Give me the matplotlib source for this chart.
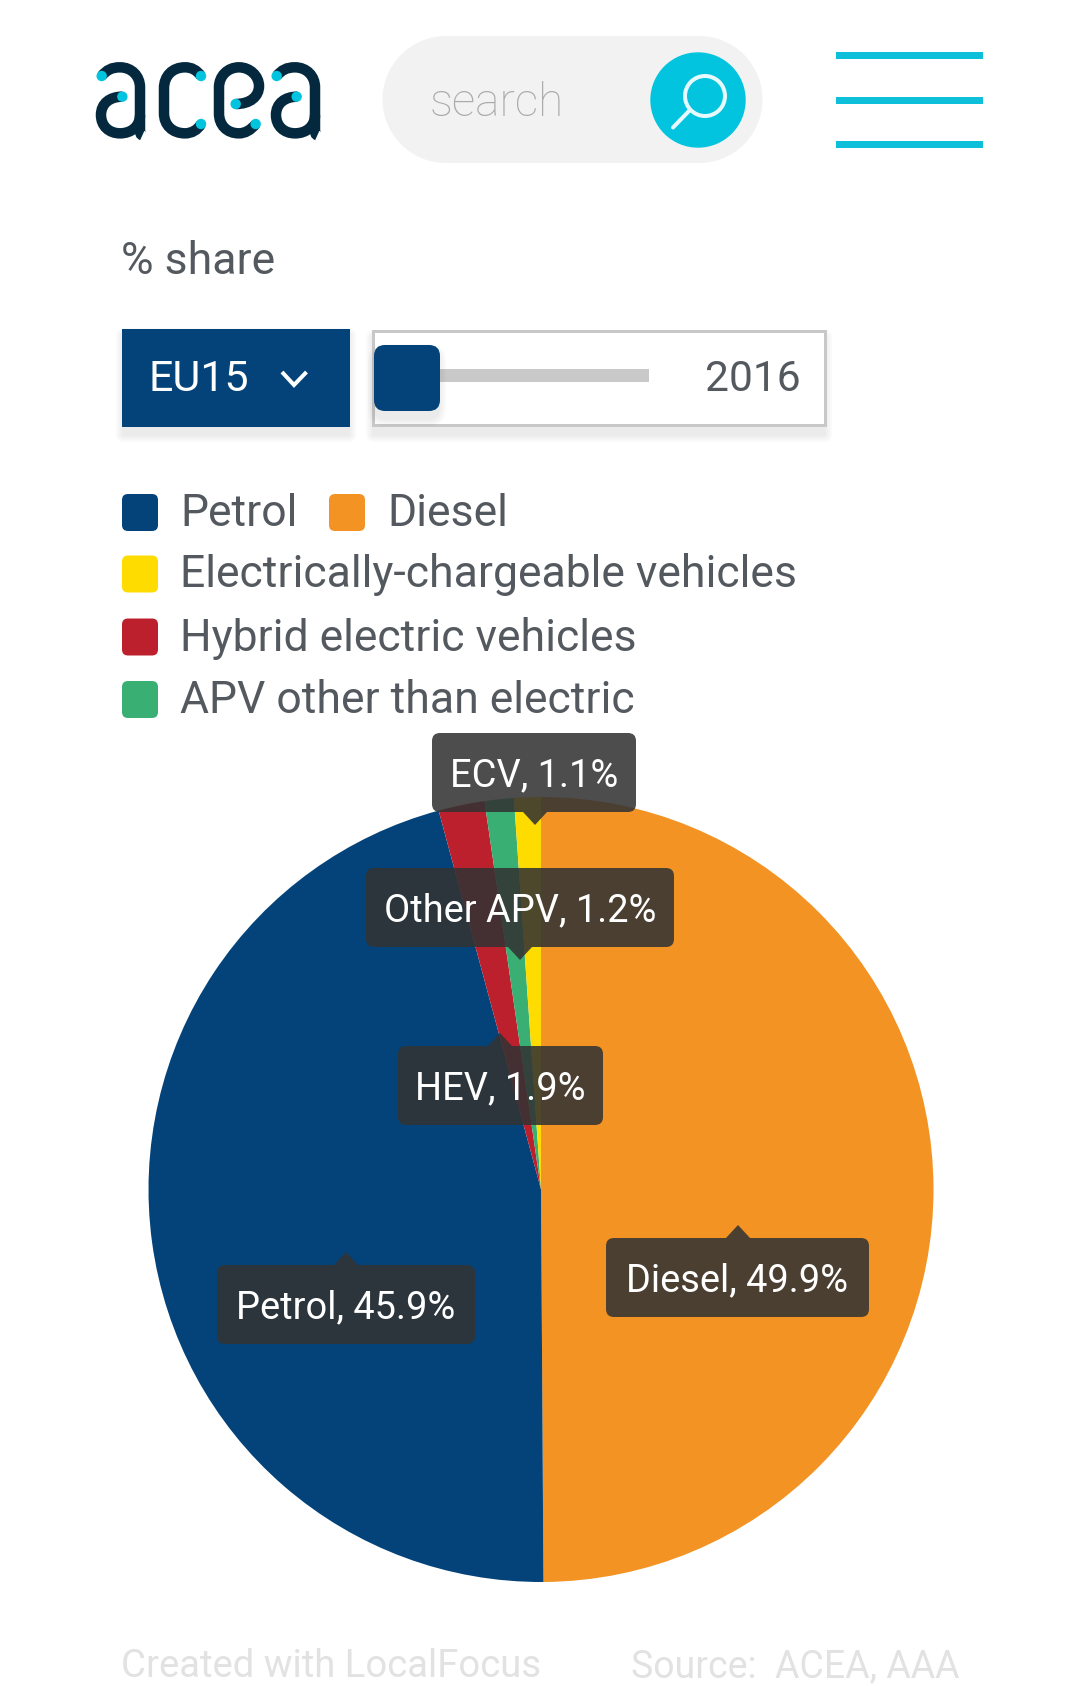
import matplotlib
matplotlib.use('Agg')
import matplotlib.pyplot as plt
from matplotlib.patches import PathPatch, Circle, Rectangle
from matplotlib.path import Path

plt.rcParams['font.family'] = ['Roboto', 'DejaVu Sans']

# Data
categories = ['Diesel', 'Petrol', 'HEV', 'Other APV', 'ECV']
shares = [49.9, 45.9, 1.9, 1.2, 1.1]
slice_colors = ['#f29324', '#03437a', '#bb202c', '#3aaf74', '#ffdc00']
legend_rows = [
    [('Petrol', '#03437a'), ('Diesel', '#f29324')],
    [('Electrically-chargeable vehicles', '#ffdc00')],
    [('Hybrid electric vehicles', '#bb202c')],
    [('APV other than electric', '#3aaf74')],
]

W, H = 1080, 1686
PX = 0.72  # pixels -> points at dpi 100
NAVY = '#03437a'
CYAN = '#03c4de'
GREY = '#53595f'

fig = plt.figure(figsize=(W / 100, H / 100), dpi=100, facecolor='white')

# Pie, its axes box is exactly the circle
cx, cy, r = 541, 1189.5, 392.5
ax_pie = fig.add_axes([(cx - r) / W, 1 - (cy + r) / H, 2 * r / W, 2 * r / H], zorder=1)
ax_pie.pie(shares, colors=slice_colors, startangle=90, counterclock=False, radius=1)
ax_pie.set_xlim(-1, 1)
ax_pie.set_ylim(-1, 1)

# Everything else is drawn in pixel coordinates
ax = fig.add_axes([0, 0, 1, 1], zorder=2)
ax.set_xlim(0, W)
ax.set_ylim(H, 0)
ax.axis('off')
ax.patch.set_alpha(0)


def box_path(x0, y0, x1, y1, rad, tip=None, tip_w=12):
    # Rounded box, optionally with a small pointer on the top or bottom side
    v = [(x0 + rad, y0)]
    c = [Path.MOVETO]
    if tip is not None and tip[1] < y0:
        v += [(tip[0] - tip_w, y0), tip, (tip[0] + tip_w, y0)]
        c += [Path.LINETO] * 3
    v += [(x1 - rad, y0), (x1, y0), (x1, y0 + rad), (x1, y1 - rad), (x1, y1), (x1 - rad, y1)]
    c += [Path.LINETO, Path.CURVE3, Path.CURVE3, Path.LINETO, Path.CURVE3, Path.CURVE3]
    if tip is not None and tip[1] > y1:
        v += [(tip[0] + tip_w, y1), tip, (tip[0] - tip_w, y1)]
        c += [Path.LINETO] * 3
    v += [(x0 + rad, y1), (x0, y1), (x0, y1 - rad), (x0, y0 + rad), (x0, y0), (x0 + rad, y0)]
    c += [Path.LINETO, Path.CURVE3, Path.CURVE3, Path.LINETO, Path.CURVE3, Path.CURVE3]
    return Path(v, c)


def shadow(x0, y0, x1, y1, rad=0):
    # Soft drop shadow from a few stacked boxes
    for grow in range(8, 0, -2):
        p = box_path(x0 - grow + 2, y0 + 7 - grow, x1 + grow - 2, y1 + 7 + grow, rad + grow)
        ax.add_patch(PathPatch(p, fc='black', ec='none', alpha=0.018))


def stroke(points, lw, color):
    # points: start, then three control points per cubic segment
    codes = [Path.MOVETO] + [Path.CURVE4] * (len(points) - 1)
    ax.add_patch(PathPatch(Path(points, codes), fc='none', ec=color, lw=lw * PX, capstyle='butt'))


# Logo, coordinates measured from a 3x crop
def lx(pts, dx=0):
    return [(85 + (p[0] + dx) / 3, 50 + p[1] / 3) for p in pts]


DARK = '#04293f'
LOGO_LW = 10.5
a_top = [(50, 78), (65, 60), (80, 52), (105, 52), (140, 52), (165, 78), (165, 112),
         (165, 150), (165, 210), (165, 240), (165, 250), (167, 254), (172, 256)]
a_bowl = [(112, 140), (75, 140), (48, 160), (48, 195), (48, 228), (72, 250), (105, 250),
          (140, 250), (165, 228), (165, 195)]
c_curve = [(348, 78), (335, 60), (320, 52), (300, 52), (262, 52), (237, 78), (237, 115),
           (237, 140), (237, 165), (237, 190), (237, 225), (262, 250), (300, 250),
           (320, 250), (338, 240), (348, 222)]
e_curve = [(512, 222), (498, 240), (480, 250), (462, 250), (425, 250), (402, 225), (402, 190),
           (402, 165), (402, 140), (402, 112), (402, 78), (428, 52), (462, 52),
           (495, 52), (522, 78), (522, 108), (522, 140), (495, 162), (452, 162)]
for pts, dx in [(a_top, 0), (a_bowl, 0), (c_curve, 0), (e_curve, 0), (a_top, 525), (a_bowl, 525)]:
    stroke(lx(pts, dx), LOGO_LW, DARK)
logo_dots = [(50, 78), (112, 140), (348, 78), (348, 222), (452, 162), (512, 222), (575, 78), (635, 140)]
for x, y in lx(logo_dots):
    ax.add_patch(Circle((x, y), 5.2, fc=CYAN, ec='none'))

# Search field
ax.add_patch(Rectangle((446, 36), 253, 127, fc='#f2f2f2', ec='none'))
ax.add_patch(Circle((446, 99.5), 63.5, fc='#f2f2f2', ec='none'))
ax.add_patch(Circle((699, 99.5), 63.5, fc='#f2f2f2', ec='none'))
ax.text(430, 116, 'search', fontsize=46 * PX, color='#aaaaaa', fontweight='light', va='baseline')
ax.add_patch(Circle((698, 100), 47.7, fc=CYAN, ec='none'))
ax.add_patch(Circle((705, 96), 20, fc='none', ec='#e6f9fc', lw=4 * PX))
ax.plot([689, 673], [111, 127.5], color='#e6f9fc', lw=4 * PX, solid_capstyle='round')

# Menu icon
for y in [55, 100, 144]:
    ax.add_patch(Rectangle((836, y - 3), 147, 6.5, fc='#0dbfd8', ec='none'))

ax.text(121, 274, '% share', fontsize=44.5 * PX, color=GREY, va='baseline')

# Region dropdown
shadow(122, 329, 350, 427)
ax.add_patch(Rectangle((122, 329), 228, 98, fc=NAVY, ec='none'))
ax.text(149, 391, 'EU15', fontsize=43 * PX, color='white', va='baseline')
ax.plot([282, 294, 306.5], [372, 385, 372], color='white', lw=4 * PX,
        solid_joinstyle='miter', solid_capstyle='butt')

# Year slider
shadow(372, 331, 826, 427)
ax.add_patch(Rectangle((373, 331), 452, 94, fc='white', ec='#c8c8c8', lw=3 * PX))
ax.add_patch(Rectangle((400, 369), 249, 13, fc='#c9c9c9', ec='none'))
shadow(374, 345, 440, 411, rad=10)
ax.add_patch(PathPatch(box_path(374, 345, 440, 411, 11), fc=NAVY, ec='none'))
ax.text(801, 391, '2016', fontsize=42.5 * PX, color=GREY, va='baseline', ha='right')

# Legend
row_y = [526, 587.5, 650.5, 713]
swatch_x = [122, 329]
label_x = [180, 387]
for baseline, row in zip(row_y, legend_rows):
    for i, (name, col) in enumerate(row):
        sy = baseline - 32
        ax.add_patch(PathPatch(box_path(swatch_x[i], sy, swatch_x[i] + 36, sy + 37, 6), fc=col, ec='none'))
        ax.text(label_x[i], baseline, name, fontsize=44.5 * PX, color=GREY, va='baseline')

# Tooltips: box, pointer tip and text baseline for each slice
tooltip_boxes = {
    'Diesel': (606, 1238, 869, 1317),
    'Petrol': (217, 1265, 475, 1344),
    'HEV': (398, 1046, 603, 1125),
    'Other APV': (366, 868, 674, 947),
    'ECV': (432, 733, 636, 812),
}
tooltip_tips = {
    'Diesel': (738, 1225),
    'Petrol': (346, 1252),
    'HEV': (500, 1033),
    'Other APV': (520, 960),
    'ECV': (535, 825),
}
for name, share in zip(categories, shares):
    x0, y0, x1, y1 = tooltip_boxes[name]
    tip = tooltip_tips[name]
    ax.add_patch(PathPatch(box_path(x0, y0, x1, y1, 8, tip=tip), fc='#333333', ec='none', alpha=0.875))
    ax.text((x0 + x1) / 2, y0 + 53.5, f'{name}, {share}%', fontsize=38 * PX, color='white',
            ha='center', va='baseline')

# Footer
ax.text(121, 1677, 'Created with LocalFocus', fontsize=38.3 * PX, color='#e2e2e2', va='baseline')
ax.text(631, 1677, 'Source:  ACEA, AAA', fontsize=37.5 * PX, color='#e2e2e2', va='baseline')

fig.savefig('out.png', dpi=100, facecolor='white')
